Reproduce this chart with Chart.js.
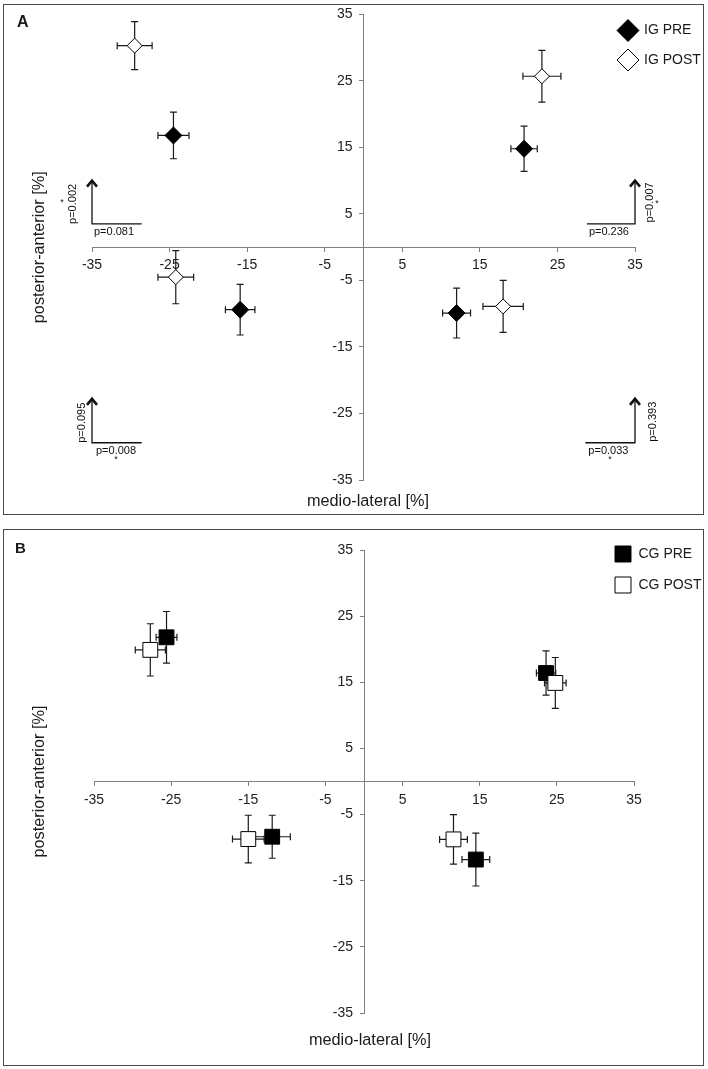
<!DOCTYPE html>
<html><head><meta charset="utf-8">
<script src="https://cdn.jsdelivr.net/npm/chart.js@4.4.1/dist/chart.umd.min.js"></script>
<style>
html,body{margin:0;padding:0;background:#fff;}
body{width:708px;height:1069px;position:relative;overflow:hidden;}
.frame{position:absolute;border:1.6px solid #4a4a4a;box-sizing:border-box;}
canvas{position:absolute;left:0;top:0;}
</style></head><body>
<div class="frame" style="left:3px;top:4px;width:701px;height:511px"></div>
<div class="frame" style="left:3px;top:529px;width:701px;height:537px"></div>
<div style="position:absolute;left:0;top:0;width:708px;height:520px"><canvas id="ca" width="708" height="520"></canvas></div>
<div style="position:absolute;left:0;top:524px;width:708px;height:545px"><canvas id="cb" width="708" height="545"></canvas></div>
<script>
// ---------- data ----------
const axisTicks = [-35, -25, -15, -5, 5, 15, 25, 35];
const xTitle = 'medio-lateral [%]';
const yTitle = 'posterior-anterior [%]';

// Panel A – intervention group
const igPreLabel = 'IG PRE';
const igPreX = [-24.5, 20.7, -15.9, 12.0];
const igPreY = [16.8, 14.8, -9.4, -9.9];
const igPreXErr = [2.0, 1.7, 1.9, 1.8];
const igPreYErr = [3.5, 3.4, 3.8, 3.75];
const igPostLabel = 'IG POST';
const igPostX = [-29.5, 23.0, -24.2, 18.0];
const igPostY = [30.3, 25.7, -4.5, -8.9];
const igPostXErr = [2.25, 2.45, 2.3, 2.6];
const igPostYErr = [3.6, 3.9, 4.0, 3.9];
const igPValuesML = ['p=0.081', 'p=0.236', 'p=0.008', 'p=0.033'];
const igPValuesPA = ['p=0.002', 'p=0.007', 'p=0.095', 'p=0.393'];

// Panel B – control group
const cgPreLabel = 'CG PRE';
const cgPreX = [-25.6, 23.6, -11.9, 14.5];
const cgPreY = [21.8, 16.4, -8.35, -11.8];
const cgPreXErr = [1.35, 1.25, 2.35, 1.8];
const cgPreYErr = [3.9, 3.35, 3.25, 4.0];
const cgPostLabel = 'CG POST';
const cgPostX = [-27.7, 24.8, -15.0, 11.6];
const cgPostY = [19.9, 14.9, -8.7, -8.75];
const cgPostXErr = [1.95, 1.4, 2.05, 1.8];
const cgPostYErr = [3.95, 3.85, 3.6, 3.75];

// ---------- helpers ----------
const FONT = "'Liberation Sans', Arial, Helvetica, sans-serif";
const pts = (xs, ys) => xs.map((v, i) => ({x: v, y: ys[i]}));

const decor = {
  id: 'decor',
  beforeDraw(chart) {
    // move the y tick labels of the centred axis a little to the left of the axis line
    chart.scales.y.getLabelItems().forEach(it => {
      if (!it._shifted) { it.options.translation[0] -= 11; it._shifted = true; }
    });
  },
  beforeDatasetDraw(chart, args) {
    const ds = chart.data.datasets[args.index];
    const {ctx} = chart, xs = chart.scales.x, ys = chart.scales.y;
    const cap = 3.5;
    ctx.save();
    ctx.strokeStyle = '#1a1a1a';
    ctx.lineWidth = 1.2;
    ds.data.forEach((p, i) => {
      const px = xs.getPixelForValue(p.x), py = ys.getPixelForValue(p.y);
      const xa = xs.getPixelForValue(p.x - ds.errX[i]), xb = xs.getPixelForValue(p.x + ds.errX[i]);
      const ya = ys.getPixelForValue(p.y - ds.errY[i]), yb = ys.getPixelForValue(p.y + ds.errY[i]);
      ctx.beginPath();
      ctx.moveTo(xa, py); ctx.lineTo(xb, py);
      ctx.moveTo(xa, py - cap); ctx.lineTo(xa, py + cap);
      ctx.moveTo(xb, py - cap); ctx.lineTo(xb, py + cap);
      ctx.moveTo(px, ya); ctx.lineTo(px, yb);
      ctx.moveTo(px - cap, ya); ctx.lineTo(px + cap, ya);
      ctx.moveTo(px - cap, yb); ctx.lineTo(px + cap, yb);
      ctx.stroke();
    });
    ctx.restore();
  },
  afterDraw(chart, args, o) {
    const {ctx} = chart, xs = chart.scales.x, ys = chart.scales.y;
    ctx.save();
    ctx.fillStyle = '#1a1a1a';
    // panel letter
    ctx.font = 'bold ' + o.letterSize + 'px ' + FONT;
    ctx.textAlign = 'left'; ctx.textBaseline = 'alphabetic';
    ctx.fillText(o.letter, o.letterPos[0], o.letterPos[1]);
    // axis titles
    ctx.font = '16.3px ' + FONT;
    ctx.textAlign = 'center'; ctx.textBaseline = 'middle';
    ctx.fillText(xTitle, o.xTitlePos[0], o.xTitlePos[1]);
    ctx.save();
    ctx.translate(o.yTitlePos[0], ys.getPixelForValue(0));
    ctx.rotate(-Math.PI / 2);
    ctx.fillText(yTitle, 0, 0);
    ctx.restore();
    // legend
    ctx.font = '14px ' + FONT;
    ctx.textAlign = 'left'; ctx.textBaseline = 'middle';
    chart.data.datasets.forEach((ds, i) => {
      const [lx, ly] = o.legendPos[i];
      ctx.save();
      ctx.fillStyle = ds.backgroundColor;
      ctx.strokeStyle = ds.borderColor;
      Chart.helpers.drawPoint(ctx, {pointStyle: ds.pointStyle, radius: o.legendRadius, rotation: 0, borderWidth: 1}, lx, ly);
      ctx.restore();
      ctx.fillText(ds.label, o.legendTextX, ly);
    });
    // p-value arrows
    (o.arrows || []).forEach(a => {
      const ox = xs.getPixelForValue(a.ox), oy = ys.getPixelForValue(a.oy);
      const tp = ys.getPixelForValue(a.top), hx = xs.getPixelForValue(a.hx);
      ctx.strokeStyle = '#111';
      ctx.lineWidth = 1.3;
      ctx.beginPath();
      ctx.moveTo(hx, oy); ctx.lineTo(ox, oy); ctx.lineTo(ox, tp + 1);
      ctx.stroke();
      ctx.lineWidth = 2.6;
      ctx.lineJoin = 'miter';
      ctx.beginPath();
      ctx.moveTo(ox - 5, tp + 8); ctx.lineTo(ox, tp + 2); ctx.lineTo(ox + 5, tp + 8);
      ctx.stroke();
      ctx.fillStyle = '#111';
      ctx.font = '11px ' + FONT;
      ctx.textAlign = 'left'; ctx.textBaseline = 'middle';
      ctx.fillText(a.h, Math.min(ox, hx) + a.hdx, oy + 8);
      ctx.save();
      ctx.translate(ox + a.vdx, oy + a.vdy);
      ctx.rotate(-Math.PI / 2);
      ctx.textAlign = 'left';
      ctx.fillText(a.v, 0, 0);
      ctx.restore();
      if (a.star) {
        ctx.font = '9px ' + FONT;
        ctx.textAlign = 'center';
        ctx.fillText('*', ox + a.star[0], oy + a.star[1]);
      }
    });
    ctx.restore();
  }
};

function scaleOpts(pos) {
  return {
    type: 'linear', min: -35, max: 35, position: pos,
    afterBuildTicks: s => { s.ticks = axisTicks.map(v => ({value: v})); },
    grid: {drawOnChartArea: false, drawTicks: true, tickLength: 4, color: '#808080', lineWidth: 1},
    border: {display: true, color: '#808080', width: 1},
    ticks: {color: '#222', font: {family: FONT, size: 14}, padding: 6, maxRotation: 0, autoSkip: false}
  };
}

function makeChart(id, sets, pad, deco) {
  return new Chart(document.getElementById(id), {
    type: 'scatter',
    data: {datasets: sets},
    options: {
      responsive: false, animation: false, devicePixelRatio: 1,
      layout: {padding: pad},
      scales: {x: scaleOpts({y: 0}), y: scaleOpts({x: 0})},
      plugins: {legend: {display: false}, tooltip: {enabled: false}, decor: deco}
    },
    plugins: [decor]
  });
}

makeChart('ca', [
  {label: igPreLabel, data: pts(igPreX, igPreY), errX: igPreXErr, errY: igPreYErr,
   pointStyle: 'rectRot', pointRadius: 8.5, backgroundColor: '#000', borderColor: '#000', borderWidth: 1, order: 2, clip: false},
  {label: igPostLabel, data: pts(igPostX, igPostY), errX: igPostXErr, errY: igPostYErr,
   pointStyle: 'rectRot', pointRadius: 7.5, backgroundColor: '#fff', borderColor: '#000', borderWidth: 1, order: 1, clip: false}
], {left: 92, right: 73, top: 13, bottom: 40}, {
  letter: 'A', letterSize: 16, letterPos: [17, 27],
  xTitlePos: [368, 502], yTitlePos: [40, 0],
  legendPos: [[628, 30.5], [628, 60]], legendRadius: 11, legendTextX: 644,
  arrows: [
    {ox: -35, oy: 3.5, top: 10.3, hx: -28.6, h: igPValuesML[0], hdx: 2, v: igPValuesPA[0], vdx: -18.6, vdy: 0, star: [-30, -21]},
    {ox: 35, oy: 3.5, top: 10.3, hx: 28.8, h: igPValuesML[1], hdx: 2, v: igPValuesPA[1], vdx: 14.5, vdy: -1.5, star: [22, -20]},
    {ox: -35, oy: -29.4, top: -22.5, hx: -28.6, h: igPValuesML[2], hdx: 4, v: igPValuesPA[2], vdx: -9.8, vdy: 0, star: [24, 17]},
    {ox: 35, oy: -29.4, top: -22.5, hx: 28.6, h: igPValuesML[3], hdx: 3, v: igPValuesPA[3], vdx: 17.7, vdy: -1, star: [-25, 17]}
  ]
});

makeChart('cb', [
  {label: cgPreLabel, data: pts(cgPreX, cgPreY), errX: cgPreXErr, errY: cgPreYErr,
   pointStyle: 'rect', pointRadius: 10.5, backgroundColor: '#000', borderColor: '#000', borderWidth: 1, order: 2, clip: false},
  {label: cgPostLabel, data: pts(cgPostX, cgPostY), errX: cgPostXErr, errY: cgPostYErr,
   pointStyle: 'rect', pointRadius: 10.5, backgroundColor: '#fff', borderColor: '#000', borderWidth: 1, order: 1, clip: false}
], {left: 94, right: 74, top: 26, bottom: 56}, {
  letter: 'B', letterSize: 15, letterPos: [15, 29],
  xTitlePos: [370, 517], yTitlePos: [40, 0],
  legendPos: [[623, 30], [623, 61]], legendRadius: 11.3, legendTextX: 638.5,
  arrows: []
});
</script>
</body></html>
